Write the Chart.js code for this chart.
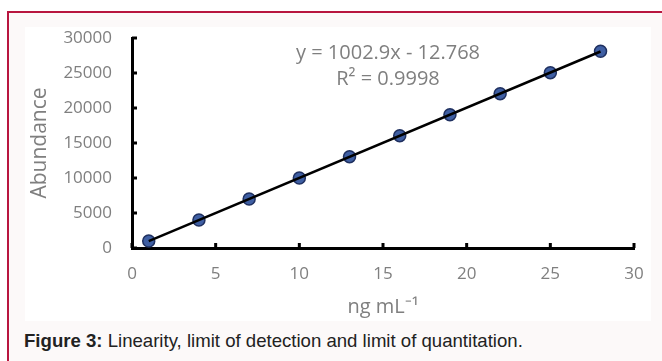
<!DOCTYPE html>
<html>
<head>
<meta charset="utf-8">
<script src="https://cdn.jsdelivr.net/npm/chart.js@4.4.1/dist/chart.umd.min.js"></script>
<style>
html,body{margin:0;padding:0;width:662px;height:361px;overflow:hidden;background:#fff;}
#panel{position:absolute;left:7px;top:11px;width:655px;height:350px;background:#fcf9f9;border-left:2px solid #b8163f;border-top:2px solid #b8163f;box-sizing:border-box;}
#wrap{position:absolute;left:25px;top:27px;width:626px;height:294px;background:#fff;}
#caption{position:absolute;left:24px;top:330px;font:18.6px "Liberation Sans",Arial,sans-serif;color:#222;white-space:nowrap;}
</style>
</head>
<body>
<div id="panel"></div>
<div id="wrap"><canvas id="chart" width="626" height="294"></canvas></div>
<div id="caption"><b>Figure 3:</b> Linearity, limit of detection and limit of quantitation.</div>
<script>

// calibration points
const conc = [1, 4, 7, 10, 13, 16, 19, 22, 25, 28];
const abundance = [1000, 4000, 7000, 10000, 13050, 16050, 19050, 22050, 25050, 28100];

// trendline ends
const trendX = [1, 28];
const trendY = [990, 28068];

const eqLines = ["y = 1002.9x - 12.768", "R² = 0.9998"];
const eqX = 15.3;
const eqY = [27800, 24150];

const grey = "#7f7f7f";

const innerTicks = {
id:"innerTicks",
afterDatasetsDraw(chart){
const ctx = chart.ctx;
const xs = chart.scales.x;
const ys = chart.scales.y;
ctx.save();
ctx.strokeStyle = "#000";
ctx.lineWidth = 3;
xs.ticks.forEach(t=>{
const px = xs.getPixelForValue(t.value);
ctx.beginPath();
ctx.moveTo(px, ys.bottom);
ctx.lineTo(px, ys.bottom - 5);
ctx.stroke();
});
ys.ticks.forEach(t=>{
const py = ys.getPixelForValue(t.value);
ctx.beginPath();
ctx.moveTo(xs.left, py);
ctx.lineTo(xs.left + 5, py);
ctx.stroke();
});
// equation
ctx.fillStyle = grey;
ctx.font = '20px "Open Sans"';
ctx.textAlign = "center";
ctx.textBaseline = "middle";
eqLines.forEach((s,i)=>{
ctx.fillText(s, xs.getPixelForValue(eqX), ys.getPixelForValue(eqY[i]));
});
ctx.restore();
}
};

new Chart(document.getElementById("chart"), {
type:"scatter",
data:{
datasets:[
{
type:"line",
data:trendX.map((x,i)=>({x, y:trendY[i]})),
borderColor:"#000",
borderWidth:2.5,
pointRadius:0,
fill:false,
order:0
},
{
data:conc.map((x,i)=>({x, y:abundance[i]})),
backgroundColor:"#3f5fa3",
borderColor:"#1f3060",
borderWidth:1.5,
pointRadius:6,
order:1
}
]
},
options:{
responsive:false,
animation:false,
layout:{padding:{top:11, right:17, left:0, bottom:0}},
plugins:{legend:{display:false}, tooltip:{enabled:false}},
scales:{
x:{
type:"linear",
min:0, max:30,
grid:{display:false, drawTicks:false},
border:{color:"#000", width:3},
ticks:{stepSize:5, color:grey, padding:16, font:{family:"Open Sans", size:17}},
title:{display:true, text:"ng mL⁻¹", color:grey, font:{family:"Open Sans", size:20}, padding:{top:0, bottom:2}},
afterFit(s){ s.height = 73; s.paddingLeft = 0; s.paddingRight = 0; }
},
y:{
min:0, max:30000,
grid:{display:false, drawTicks:false},
border:{color:"#000", width:3},
ticks:{stepSize:5000, color:grey, padding:20, font:{family:"Open Sans", size:17},
callback:v=>String(v)},
title:{display:true, text:"Abundance", color:grey, font:{family:"Open Sans", size:21}, padding:{top:2, bottom:0}},
afterFit(s){ s.width = 107; s.paddingTop = 0; s.paddingBottom = 0; }
}
}
},
plugins:[innerTicks]
});
</script>
</body>
</html>
